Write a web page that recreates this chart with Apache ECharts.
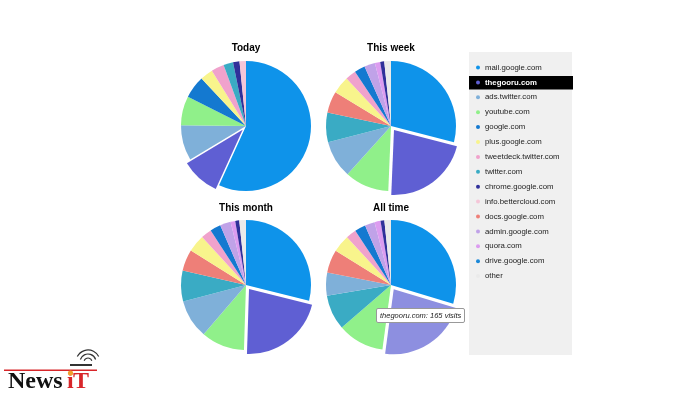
<!DOCTYPE html>
<html>
<head>
<meta charset="utf-8">
<script src="https://cdn.jsdelivr.net/npm/echarts@6/dist/echarts.min.js"></script>
<style>
  html, body { margin: 0; padding: 0; background: #fff; }
  #main { width: 700px; height: 396px; }
</style>
</head>
<body>
<div id="main"></div>
<script>
// legend order and colour of each site
var sites = ['mail.google.com', 'thegooru.com', 'ads.twitter.com', 'youtube.com', 'google.com',
    'plus.google.com', 'tweetdeck.twitter.com', 'twitter.com', 'chrome.google.com',
    'info.bettercloud.com', 'docs.google.com', 'admin.google.com', 'quora.com',
    'drive.google.com', 'other'];
var siteColors = ['#0e93ea', '#5f5fd3', '#7fb0d9', '#90f08a', '#1479d0',
    '#f8f48c', '#f0a2cc', '#3aabc4', '#30309a',
    '#f5c6d8', '#ee7f78', '#c0a2e8', '#dc9cf0',
    '#1b88d8', '#eaeaea'];

// visits per period, in the order the slices are drawn
var todayNames = ['mail.google.com', 'thegooru.com', 'ads.twitter.com', 'youtube.com', 'google.com',
    'plus.google.com', 'tweetdeck.twitter.com', 'twitter.com', 'chrome.google.com', 'info.bettercloud.com'];
var todayVisits = [71, 12, 11, 9, 7, 4, 4, 3, 2, 2];

var weekNames = ['mail.google.com', 'thegooru.com', 'youtube.com', 'ads.twitter.com', 'twitter.com',
    'docs.google.com', 'plus.google.com', 'tweetdeck.twitter.com', 'google.com', 'admin.google.com',
    'quora.com', 'chrome.google.com', 'other'];
var weekVisits = [87, 65, 33, 28, 22, 16, 13, 8, 8, 8, 4, 3, 5];

var monthNames = ['mail.google.com', 'thegooru.com', 'youtube.com', 'ads.twitter.com', 'twitter.com',
    'docs.google.com', 'plus.google.com', 'tweetdeck.twitter.com', 'google.com', 'admin.google.com',
    'quora.com', 'chrome.google.com', 'other'];
var monthVisits = [174, 130, 65, 58, 46, 32, 26, 16, 16, 16, 7, 6, 10];

var allNames = ['mail.google.com', 'thegooru.com', 'youtube.com', 'twitter.com', 'ads.twitter.com',
    'docs.google.com', 'plus.google.com', 'tweetdeck.twitter.com', 'google.com', 'admin.google.com',
    'quora.com', 'chrome.google.com', 'other', 'drive.google.com'];
var allVisits = [218, 165, 85, 64, 42, 42, 32, 19, 20, 18, 11, 7, 12, 0];

var periods = ['Today', 'This week', 'This month', 'All time'];

var myChart = echarts.init(document.getElementById('main'));

function colorOf(name) {
    return siteColors[sites.indexOf(name)];
}

function pieData(names, values, hovered) {
    return names.map(function (name, i) {
        var item = {
            name: name,
            value: values[i],
            itemStyle: { color: colorOf(name) }
        };
        if (name === 'thegooru.com') {
            item.selected = true;
            // the "All time" slice is under the mouse pointer in the picture
            if (hovered) item.itemStyle.color = '#8d8fe0';
        }
        return item;
    });
}

function pieSeries(names, values, center, hovered) {
    return {
        type: 'pie',
        center: center,
        radius: 65,
        startAngle: 90,
        selectedMode: 'single',
        selectedOffset: 5,
        label: { show: false },
        labelLine: { show: false },
        emphasis: { disabled: true },
        data: pieData(names, values, hovered)
    };
}

var centers = [[246, 126], [391, 126], [246, 285], [391, 285]];

var option = {
    animation: false,
    textStyle: { fontFamily: 'Liberation Sans, Arial, sans-serif' },
    title: periods.map(function (p, i) {
        return {
            text: p,
            left: centers[i][0],
            top: centers[i][1] - (i < 2 ? 83 : 82),
            textAlign: 'center',
            padding: 0,
            textStyle: { fontSize: 10, fontWeight: 'bold', color: '#000' }
        };
    }),
    tooltip: {
        trigger: 'item',
        alwaysShowContent: true,
        transitionDuration: 0,
        position: [376, 308],
        formatter: '{b}: {c} visits',
        backgroundColor: '#fff',
        borderColor: '#999',
        borderWidth: 1,
        padding: [1, 3],
        textStyle: { fontSize: 7.5, fontStyle: 'italic', color: '#222', fontFamily: 'Liberation Sans' },
        extraCssText: 'box-shadow:none;border-radius:2px;line-height:11px;'
    },
    legend: {
        orient: 'vertical',
        left: 476,
        top: 62,
        padding: 0,
        icon: 'circle',
        itemWidth: 4,
        itemHeight: 4,
        itemGap: 3.9,
        selectedMode: false,
        textStyle: { fontSize: 7.8, color: '#222', lineHeight: 11 },
        data: sites.map(function (s) {
            if (s === 'thegooru.com') {
                return { name: s, textStyle: { color: '#fff', fontWeight: 'bold' } };
            }
            return s;
        })
    },
    graphic: {
        elements: [
            // legend panel and the highlighted row
            { type: 'rect', shape: { x: 469, y: 52, width: 103, height: 303 }, style: { fill: '#f0f0f0' }, z: -10 },
            { type: 'rect', shape: { x: 469, y: 76, width: 104, height: 13.5 }, style: { fill: '#000' }, z: -9 },
            // watermark logo
            { type: 'rect', shape: { x: 4, y: 369.5, width: 93, height: 1.6 }, style: { fill: '#d8262a' } },
            { type: 'text', style: { text: 'News', x: 8, y: 382, font: 'bold 24px "Liberation Serif"', fill: '#111', verticalAlign: 'middle' } },
            { type: 'text', style: { text: 'i', x: 67, y: 382, font: 'bold 24px "Liberation Serif"', fill: '#d8262a', verticalAlign: 'middle' } },
            { type: 'text', style: { text: 'T', x: 73, y: 382, font: 'bold 24px "Liberation Serif"', fill: '#d8262a', verticalAlign: 'middle' } },
            { type: 'circle', shape: { cx: 70.5, cy: 373, r: 2.6 }, style: { fill: '#f0a030' } },
            { type: 'rect', shape: { x: 70, y: 364, width: 22, height: 2 }, style: { fill: '#333' } },
            { type: 'arc', shape: { cx: 88, cy: 362, r: 4, startAngle: -Math.PI * 0.9, endAngle: -Math.PI * 0.1 }, style: { stroke: '#333', lineWidth: 1.2, fill: null } },
            { type: 'arc', shape: { cx: 88, cy: 362, r: 8, startAngle: -Math.PI * 0.9, endAngle: -Math.PI * 0.1 }, style: { stroke: '#333', lineWidth: 1.2, fill: null } },
            { type: 'arc', shape: { cx: 88, cy: 362, r: 12, startAngle: -Math.PI * 0.85, endAngle: -Math.PI * 0.15 }, style: { stroke: '#333', lineWidth: 1.2, fill: null } }
        ]
    },
    series: [
        pieSeries(todayNames, todayVisits, centers[0], false),
        pieSeries(weekNames, weekVisits, centers[1], false),
        pieSeries(monthNames, monthVisits, centers[2], false),
        pieSeries(allNames, allVisits, centers[3], true)
    ]
};
myChart.setOption(option);

myChart.dispatchAction({ type: 'showTip', seriesIndex: 3, dataIndex: 1 });
</script>
</body>
</html>
